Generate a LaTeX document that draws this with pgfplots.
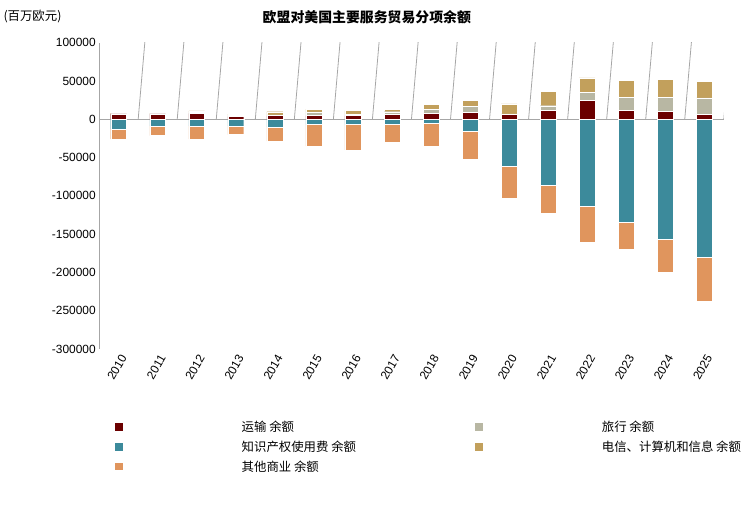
\documentclass[border=0pt]{standalone}
\usepackage{pgfplots}
\pgfplotsset{compat=1.18}
\usepackage{fontspec}
\setmainfont{Liberation Sans}
\newfontfamily\cjk{Noto Sans CJK SC}
\definecolor{ctr}{HTML}{6B0000}
\definecolor{ctv}{HTML}{B8B7A3}
\definecolor{cip}{HTML}{3C8A9B}
\definecolor{ctel}{HTML}{C2A05C}
\definecolor{coth}{HTML}{E0955D}
\begin{document}
\begin{tikzpicture}
\pgfplotsset{base/.style={scale only axis,width=630pt,height=309pt,at={(0,0)},anchor=south west,
 xmin=-0.5,xmax=15.5,ymin=-300000,ymax=100000,
 ybar stacked,bar width=16pt,
 every axis plot/.append style={draw=white,line width=0.4pt},
 /pgf/number format/assume math mode=true,
 ytick={-300000,-250000,...,100000},
 yticklabel style={font=\fontsize{12}{12}\selectfont},
 scaled y ticks=false,
 y tick label style={/pgf/number format/.cd,fixed,1000 sep={}},
 xtick={0,...,15},xticklabels={2010,2011,2012,2013,2014,2015,2016,2017,2018,2019,2020,2021,2022,2023,2024,2025},
 xticklabel style={rotate=60,anchor=north east,font=\fontsize{12}{12}\selectfont},
 xtick style={draw=none},ytick style={draw=none},
 axis y line*=left, y axis line style={draw=gray!70,line width=1pt},
 axis x line*=bottom, x axis line style={draw=none}}}
\begin{axis}[base,
 legend style={at={(0.02,-0.22)},anchor=north west,draw=none,font=\cjk\fontsize{12.5}{12.5}\selectfont,column sep=118pt,row sep=4pt},
 legend columns=2, legend cell align=left,
 legend image code/.code={\fill[#1,draw=none] (0pt,-4pt) rectangle (8pt,4pt);}]
\addlegendimage{fill=ctr}\addlegendentry{运输 余额}
\addlegendimage{fill=ctv}\addlegendentry{旅行 余额}
\addlegendimage{fill=cip}\addlegendentry{知识产权使用费 余额}
\addlegendimage{fill=ctel}\addlegendentry{电信、计算机和信息 余额}
\addlegendimage{fill=coth}\addlegendentry{其他商业 余额}
\addplot[fill=cip,forget plot] coordinates {(0,-13000)(1,-8600)(2,-8600)(3,-8600)(4,-10000)(5,-6900)(6,-6900)(7,-6900)(8,-5600)(9,-15500)(10,-61000)(11,-86000)(12,-113000)(13,-134000)(14,-157000)(15,-180000)};
\addplot[fill=coth,forget plot] coordinates {(0,-13000)(1,-12900)(2,-17400)(3,-11400)(4,-18500)(5,-28100)(6,-33100)(7,-23100)(8,-29400)(9,-36500)(10,-42000)(11,-37000)(12,-48000)(13,-36000)(14,-43000)(15,-58000)};
\end{axis}
\begin{axis}[base,yticklabels={},xticklabels={},y axis line style={draw=none}]
\addplot[fill=ctr] coordinates {(0,7000)(1,7000)(2,7800)(3,3500)(4,4800)(5,4800)(6,4800)(7,6000)(8,7800)(9,9000)(10,6000)(11,11600)(12,25000)(13,12000)(14,10000)(15,6500)};
\addplot[fill=ctv] coordinates {(0,0)(1,0)(2,1000)(3,1500)(4,1000)(5,4000)(6,2000)(7,3800)(8,5500)(9,8000)(10,1000)(11,6000)(12,10000)(13,17000)(14,19000)(15,21500)};
\addplot[fill=ctel] coordinates {(0,1000)(1,1000)(2,2000)(3,1500)(4,4000)(5,4500)(6,4500)(7,3500)(8,6000)(9,8000)(10,13000)(11,19000)(12,19000)(13,22000)(14,23500)(15,21500)};
\draw[gray!70,line width=1pt] (axis cs:-0.5,0)--(axis cs:15.5,0);
\pgfplotsinvokeforeach{0.5,1.5,...,15.5}{\draw[gray!70,line width=0.8pt] (axis cs:#1,0)--++(0,-4pt);}
\end{axis}
\node[font=\cjk\bfseries\fontsize{14}{14}\selectfont] at (270pt,335pt) {欧盟对美国主要服务贸易分项余额};
\node[font=\cjk\fontsize{12.5}{12.5}\selectfont,anchor=west] at (-100pt,335pt) {(百万欧元)};
\path (-100pt,-164pt) rectangle (646pt,352pt);
\end{tikzpicture}
\end{document}
